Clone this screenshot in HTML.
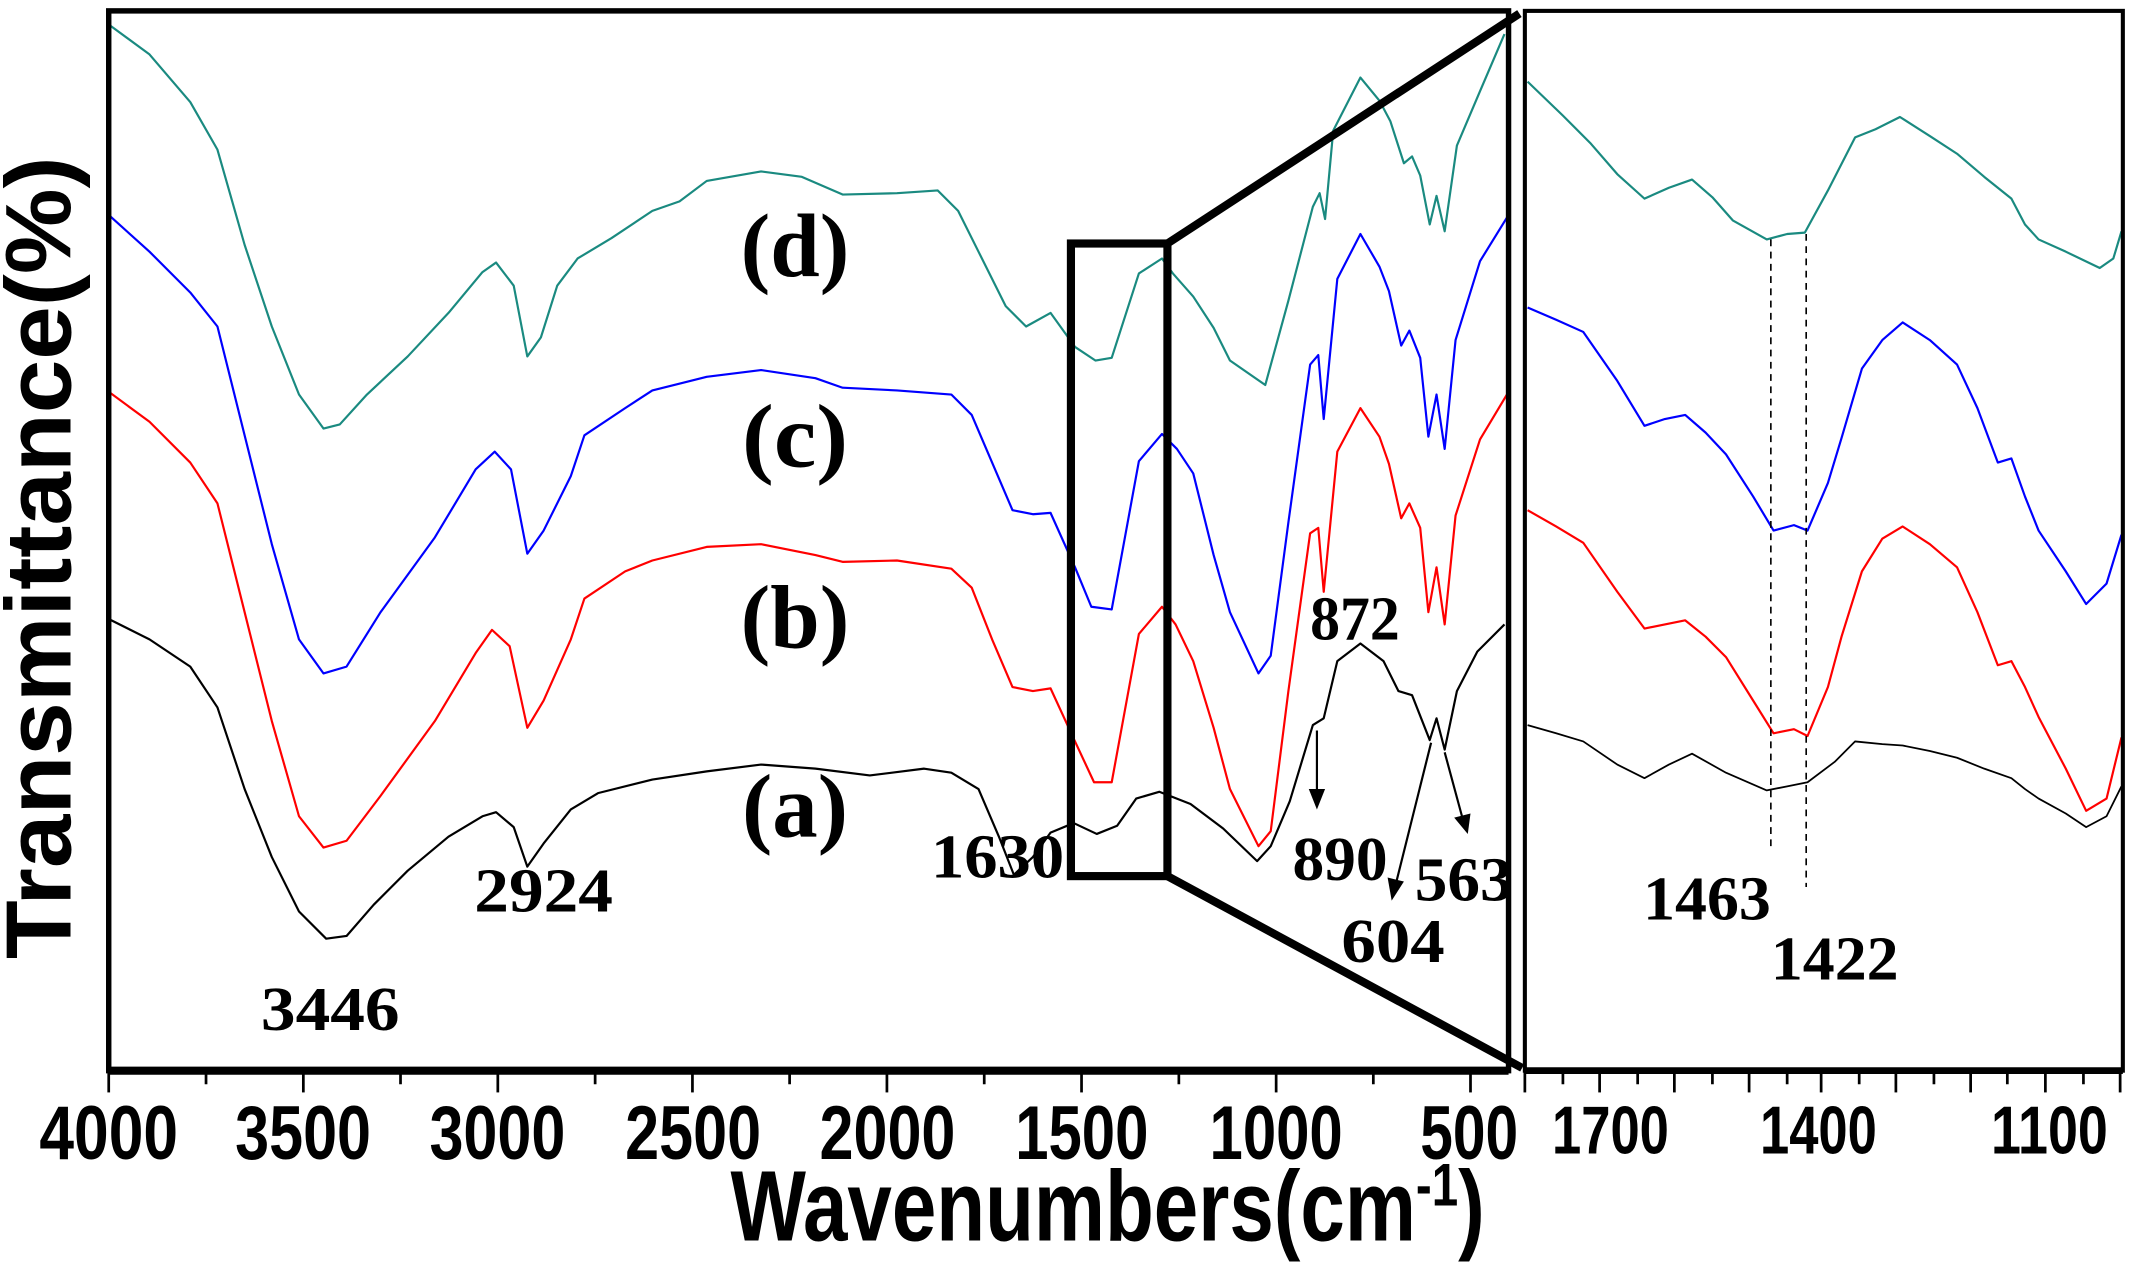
<!DOCTYPE html>
<html><head><meta charset="utf-8"><style>html,body{margin:0;padding:0;background:#fff}svg{display:block}</style></head>
<body>
<svg width="2131" height="1272" viewBox="0 0 1568 935" preserveAspectRatio="none" xmlns="http://www.w3.org/2000/svg">
<rect width="1568" height="935" fill="#fff"/>
<g fill="none" stroke-linejoin="round" stroke-width="1.6">
<polyline stroke="#1a8a80" points="80,18 110,40 140,75 160,110 180,180 200,240 220,290 238,315 250,312 270,290 300,262 330,230 355,200 365,193 378,210 388,262 398,248 410,210 425,190 450,175 480,155 500,148 520,133 560,126 590,130 620,143 660,142 690,140 705,155 720,185 740,225 755,240 773,230 791,255 806,265 818,263 838,201 855,190 863,201 878,218 893,241 905,265 931,283 948,221 966,152 971,142 975,161 981,96 1001,57 1015,74 1023,89 1033,120 1039,115 1045,129 1052,165 1057,144 1063,170 1072,107 1089,67 1107,25"/>
<polyline stroke="#0000ff" points="80,158 110,185 140,215 160,240 180,320 200,400 220,470 238,495 255,490 280,450 320,395 350,345 364,332 376,345 388,407 400,390 420,350 430,320 460,300 480,287 520,277 560,272 600,278 620,285 660,287 700,290 715,305 730,340 745,375 760,378 773,377 791,417 803,446 818,448 838,339 855,319 866,330 878,348 893,408 905,450 926,495 935,482 948,384 964,268 970,261 974,308 984,205 1001,172 1015,196 1022,214 1031,254 1037,243 1045,263 1051,321 1057,290 1063,330 1071,250 1089,192 1110,158"/>
<polyline stroke="#ff0000" points="80,288 110,310 140,340 160,370 180,450 200,530 220,600 238,623 255,618 280,585 320,530 350,480 362,463 375,475 388,535 400,515 420,470 430,440 460,420 480,412 520,402 560,400 600,408 620,413 660,412 700,418 715,432 730,470 745,505 760,508 773,506 791,545 805,575 818,575 838,466 855,446 865,459 878,486 893,535 905,580 926,622 935,611 948,508 964,392 970,388 974,435 984,332 1001,300 1015,321 1022,341 1031,381 1037,370 1045,388 1051,450 1057,417 1063,459 1071,379 1089,323 1110,288"/>
<polyline stroke="#000" points="80,455 110,470 140,490 160,520 180,580 200,630 220,670 240,690 255,688 275,665 300,640 330,615 355,600 365,597 378,608 388,637 400,620 420,595 440,583 480,573 520,567 560,562 600,565 640,570 680,565 700,568 720,580 735,615 746,643 760,630 773,612 790,605 807,613 822,607 836,587 853,582 876,591 900,609 925,633 935,622 949,589 966,533 974,528 984,486 1001,473 1018,486 1029,508 1039,511 1052,544 1057,528 1063,551 1072,508 1087,479 1107,459"/>
<polyline stroke="#1a8a80" points="1124,60 1150,85 1170,105 1190,128 1210,146 1228,138 1245,132 1260,145 1275,162 1300,176 1315,172 1328,171 1345,140 1365,101 1380,95 1398,86 1420,100 1440,113 1460,130 1480,146 1490,165 1500,176 1520,185 1545,197 1555,190 1561,170"/>
<polyline stroke="#0000ff" points="1124,226 1145,235 1165,244 1190,280 1210,313 1225,308 1240,305 1255,318 1270,334 1290,365 1305,390 1320,386 1330,390 1345,355 1355,322 1370,271 1385,250 1400,237 1420,250 1440,268 1455,300 1470,340 1480,337 1490,365 1500,390 1520,420 1535,444 1550,429 1561,393"/>
<polyline stroke="#ff0000" points="1124,375 1145,387 1165,399 1190,435 1210,462 1225,459 1240,456 1255,468 1270,483 1290,515 1305,539 1320,536 1330,541 1345,505 1355,468 1370,420 1385,396 1400,387 1420,400 1440,417 1455,450 1470,489 1480,486 1490,505 1500,527 1520,565 1535,596 1550,587 1561,542"/>
<polyline stroke="#000" stroke-width="1.3" points="1124,533 1145,539 1165,545 1190,562 1210,572 1228,562 1245,554 1270,568 1300,581 1315,578 1330,575 1350,560 1365,545 1385,547 1400,548 1420,552 1440,557 1460,565 1480,572 1490,580 1500,587 1520,598 1535,608 1550,600 1561,578"/>
</g>
<g stroke="#000" stroke-width="1.2" stroke-dasharray="5,4">
<line x1="1303" y1="176" x2="1303" y2="625"/>
<line x1="1329" y1="172" x2="1329" y2="652"/>
</g>
<g fill="none" stroke="#000">
<rect x="80" y="8" width="1030" height="779" stroke-width="4"/>
<rect x="1122" y="8" width="440" height="779" stroke-width="3"/>
<rect x="788" y="179" width="71" height="465" stroke-width="6"/>
<line x1="859" y1="179" x2="1118" y2="10" stroke-width="6"/>
<line x1="859" y1="644" x2="1120" y2="785" stroke-width="6"/>
</g>
<line x1="80" y1="787" x2="1110" y2="787" stroke="#000" stroke-width="6"/>
<line x1="1122" y1="787" x2="1562" y2="787" stroke="#000" stroke-width="5"/>
<g stroke="#000" stroke-width="2">
<line x1="80" y1="787" x2="80" y2="803"/><line x1="151.6" y1="787" x2="151.6" y2="797"/>
<line x1="223.2" y1="787" x2="223.2" y2="803"/><line x1="294.7" y1="787" x2="294.7" y2="797"/>
<line x1="366.3" y1="787" x2="366.3" y2="803"/><line x1="437.9" y1="787" x2="437.9" y2="797"/>
<line x1="509.5" y1="787" x2="509.5" y2="803"/><line x1="581" y1="787" x2="581" y2="797"/>
<line x1="652.6" y1="787" x2="652.6" y2="803"/><line x1="724.2" y1="787" x2="724.2" y2="797"/>
<line x1="795.8" y1="787" x2="795.8" y2="803"/><line x1="867.4" y1="787" x2="867.4" y2="797"/>
<line x1="939" y1="787" x2="939" y2="803"/><line x1="1010.5" y1="787" x2="1010.5" y2="797"/>
<line x1="1082" y1="787" x2="1082" y2="803"/>
<line x1="1122" y1="787" x2="1122" y2="803"/><line x1="1150" y1="787" x2="1150" y2="797"/>
<line x1="1177" y1="787" x2="1177" y2="803"/><line x1="1205" y1="787" x2="1205" y2="797"/>
<line x1="1232" y1="787" x2="1232" y2="803"/><line x1="1260" y1="787" x2="1260" y2="797"/>
<line x1="1287" y1="787" x2="1287" y2="803"/><line x1="1315" y1="787" x2="1315" y2="797"/>
<line x1="1340" y1="787" x2="1340" y2="803"/><line x1="1368" y1="787" x2="1368" y2="797"/>
<line x1="1395" y1="787" x2="1395" y2="803"/><line x1="1423" y1="787" x2="1423" y2="797"/>
<line x1="1450" y1="787" x2="1450" y2="803"/><line x1="1477" y1="787" x2="1477" y2="797"/>
<line x1="1505" y1="787" x2="1505" y2="803"/><line x1="1533" y1="787" x2="1533" y2="797"/>
<line x1="1560" y1="787" x2="1560" y2="803"/>
</g>
<g stroke="#000" stroke-width="1.6" fill="#000">
<line x1="969" y1="537" x2="969" y2="585"/><polygon points="963,580 975,580 969,595" stroke="none"/>
<line x1="1053" y1="546" x2="1027" y2="650"/><polygon points="1021,645 1033,648 1024,662" stroke="none"/>
<line x1="1063" y1="553" x2="1076" y2="601"/><polygon points="1070,601 1082,598 1080,613" stroke="none"/>
</g>
<g font-family="Liberation Serif, serif" font-weight="bold" fill="#000" text-anchor="middle">
<text x="585" y="203" font-size="66" textLength="80" lengthAdjust="spacingAndGlyphs">(d)</text>
<text x="585" y="343" font-size="66" textLength="78" lengthAdjust="spacingAndGlyphs">(c)</text>
<text x="585" y="476" font-size="66" textLength="80" lengthAdjust="spacingAndGlyphs">(b)</text>
<text x="585" y="615" font-size="66" textLength="78" lengthAdjust="spacingAndGlyphs">(a)</text>
<g font-size="46">
<text x="243" y="757" textLength="102" lengthAdjust="spacingAndGlyphs">3446</text>
<text x="400" y="670" textLength="102" lengthAdjust="spacingAndGlyphs">2924</text>
<text x="734" y="645" textLength="98" lengthAdjust="spacingAndGlyphs">1630</text>
<text x="997" y="470" textLength="66" lengthAdjust="spacingAndGlyphs">872</text>
<text x="986" y="647" textLength="70" lengthAdjust="spacingAndGlyphs">890</text>
<text x="1077" y="662" textLength="72" lengthAdjust="spacingAndGlyphs">563</text>
<text x="1025" y="707" textLength="76" lengthAdjust="spacingAndGlyphs">604</text>
<text x="1256" y="676" textLength="94" lengthAdjust="spacingAndGlyphs">1463</text>
<text x="1350" y="720" textLength="94" lengthAdjust="spacingAndGlyphs">1422</text>
</g>
</g>
<g font-family="Liberation Sans, sans-serif" font-weight="bold" fill="#000" text-anchor="middle" font-size="56">
<text x="80" y="852" textLength="102" lengthAdjust="spacingAndGlyphs">4000</text>
<text x="223" y="852" textLength="100" lengthAdjust="spacingAndGlyphs">3500</text>
<text x="366" y="852" textLength="100" lengthAdjust="spacingAndGlyphs">3000</text>
<text x="510" y="852" textLength="100" lengthAdjust="spacingAndGlyphs">2500</text>
<text x="653" y="852" textLength="100" lengthAdjust="spacingAndGlyphs">2000</text>
<text x="796" y="852" textLength="98" lengthAdjust="spacingAndGlyphs">1500</text>
<text x="939" y="852" textLength="98" lengthAdjust="spacingAndGlyphs">1000</text>
<text x="1081" y="852" textLength="72" lengthAdjust="spacingAndGlyphs">500</text>
<text x="1185" y="848" font-size="50" textLength="86" lengthAdjust="spacingAndGlyphs">1700</text>
<text x="1338" y="848" font-size="50" textLength="86" lengthAdjust="spacingAndGlyphs">1400</text>
<text x="1508" y="848" font-size="50" textLength="86" lengthAdjust="spacingAndGlyphs">1100</text>
<text x="815" y="912" font-size="74" textLength="555" lengthAdjust="spacingAndGlyphs">Wavenumbers(cm<tspan font-size="44" dy="-26">-1</tspan><tspan dy="26">)</tspan></text>
<text transform="translate(52,410) rotate(-90)" font-size="68" textLength="590" lengthAdjust="spacingAndGlyphs">Transmittance(%)</text>
</g>
</svg>
</body></html>
